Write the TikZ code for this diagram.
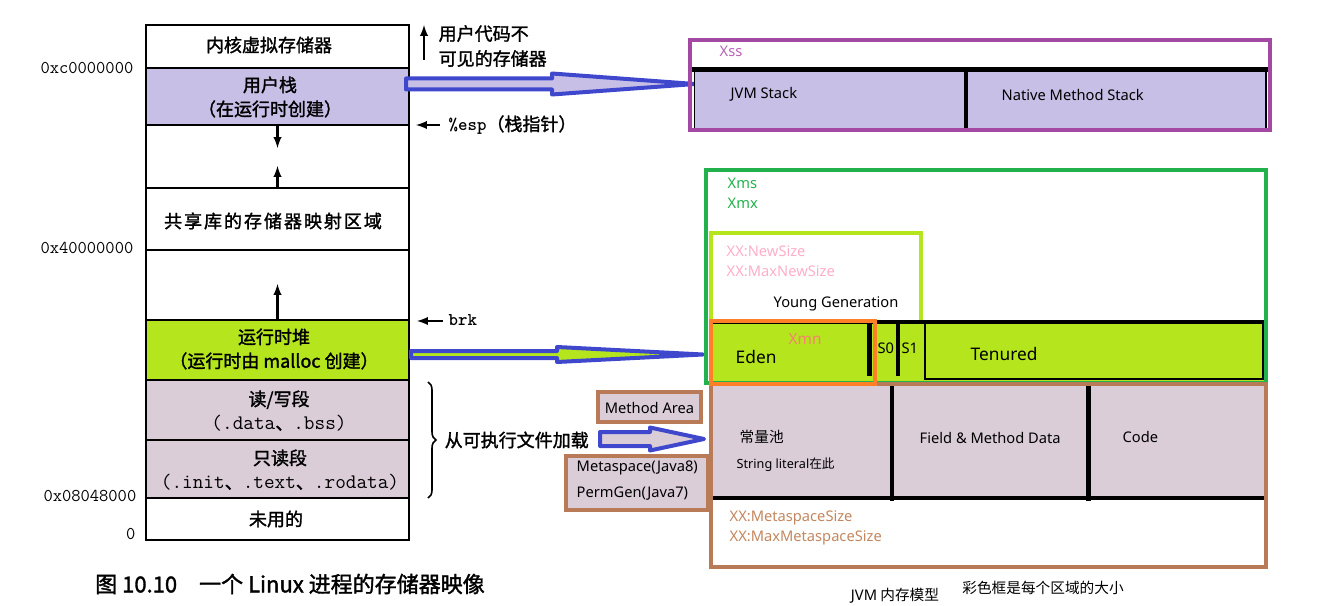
\documentclass[tikz,border=0pt]{standalone}
\usepackage{fontspec}
\setmainfont{Noto Sans CJK SC}
\newfontfamily\cjk{Noto Sans CJK SC}
\newfontfamily\buch[FakeBold=1.6]{Noto Sans CJK SC}
\newfontfamily\lat{Noto Sans}
\usepackage{tikz}
\usetikzlibrary{arrows,calc,positioning,decorations.pathreplacing}
\definecolor{stackviolet}{HTML}{C8BFE7}
\definecolor{heapgreen}{HTML}{B5E61D}
\definecolor{segmauve}{HTML}{DACDD8}
\definecolor{pfeilblau}{HTML}{3F48CC}
\definecolor{rahmenlila}{HTML}{A349A4}
\definecolor{xsslila}{HTML}{B764B7}
\definecolor{rahmengruen}{HTML}{22B14C}
\definecolor{rahmenorange}{HTML}{FF7F27}
\definecolor{xmnrot}{HTML}{F98072}
\definecolor{rahmenbraun}{HTML}{B97A57}
\definecolor{metabraun}{HTML}{C3875F}
\definecolor{rosa}{HTML}{FFAEC9}
\newcommand{\mono}[1]{{\ttfamily\fontsize{15.5}{18}\selectfont #1}}

\begin{document}
\begin{tikzpicture}[x=0.75pt,y=-0.75pt,
  zeile/.style={draw=black,line width=1.6pt},
  buchtext/.style={font=\buch\fontsize{13.5}{18}\selectfont,align=center},
  adresse/.style={font=\ttfamily\fontsize{13.5}{15}\selectfont,anchor=east},
  jvmtext/.style={font=\lat\fontsize{11}{13}\selectfont,anchor=west},
  rahmen/.style={line width=3pt},
  trenner/.style={line width=3.5pt,black},
  zeiger/.style={-latex,line width=1.8pt},
  blockpfeil/.style={draw=pfeilblau,line width=3pt,line join=round}]
\useasboundingbox (0,0) rectangle (1318,606);
%Spalte links: Zeilen mit oben/unten/Farbe
  \pgfmathsetmacro{\links}{146}
  \pgfmathsetmacro{\rechts}{409}
  \pgfmathsetmacro{\mitte}{(\links+\rechts)/2}
\foreach \oben/\unten/\farbe in {25/68/white,68/125/stackviolet,125/188/white,188/250/white,250/320/white,320/380/heapgreen,380/440/segmauve,440/498/segmauve,498/540/white}{
\draw[zeile,fill=\farbe] (\links,\oben) rectangle (\rechts,\unten);
}
\node[buchtext] (kern) at (269,45) {内核虚拟存储器};
\node[buchtext] (ustack) at (270,97) {用户栈\\（在运行时创建）};
\node[buchtext,font=\buch\fontsize{13.5}{18}\addfontfeature{LetterSpace=11}\selectfont] (shlib) at (273,221) {共享库的存储器映射区域};
\node[buchtext] (heap) at (274,349) {运行时堆\\（运行时由 malloc 创建）};
\node[buchtext] (rwseg) at (279,411) {读/写段\\\mono{(.data}、\mono{.bss)}};
\node[buchtext] (roseg) at (280,470) {只读段\\\mono{(.init}、\mono{.text}、\mono{.rodata)}};
\node[buchtext] (unused) at (276,519) {未用的};
\draw[zeiger] (\mitte,124) -- (\mitte,148);
\draw[zeiger] (\mitte,189) -- (\mitte,166);
\draw[zeiger] (\mitte,321) -- (\mitte,284);
%Adressen
\node[adresse] (adrc) at (138,68) {0xc0000000};
\node[adresse] (adrvier) at (138,248) {0x40000000};
\node[adresse] (adrnull) at (141,496) {0x08048000};
\node[adresse] (null) at (140,534) {0};
%Beschriftung rechts der Spalte
\draw[zeiger] (424,60) -- (424,25);
\node[buchtext,align=left,anchor=west,font=\buch\fontsize{13.5}{18.75}\selectfont] (unsichtbar) at (434,46) {用户代码不\\可见的存储器};
\draw[zeiger] (440,125) -- (416,125);
\node[buchtext,anchor=west] (esp) at (444,125) {{\ttfamily\bfseries\%esp}（栈指针）};
\draw[zeiger] (443,321) -- (417,321);
\node[buchtext,anchor=west] (brk) at (444,320) {\ttfamily\bfseries brk};
\draw[line width=1.2pt,decorate,decoration={brace,amplitude=6pt}] (428,382) -- (428,498);
\node[buchtext,anchor=west] (laden) at (440,440) {从可执行文件加载};
\node[buchtext,font=\buch\fontsize{16.5}{18}\selectfont] (titel) at (290,584) {图 10.10\quad 一个 Linux 进程的存储器映像};
%Pfeile
\coordinate (pfA0) at (406,84);
\coordinate (pfA1) at (695,84);
\coordinate (pfB0) at (411,354.5);
\coordinate (pfB1) at (703,354.5);
\coordinate (pfC0) at (600,439);
\coordinate (pfC1) at (704,439);
\draw[blockpfeil,fill=stackviolet] ($(pfA0)+(0,-5.5)$) -- ++(146,0) -- ++(0,-5) -- (pfA1) -- ++(-143,10.5) -- ++(0,-5) -- ++(-146,0) -- cycle;
\draw[blockpfeil,fill=heapgreen] ($(pfB0)+(0,-3.5)$) -- ++(146,0) -- ++(0,-4) -- (pfB1) -- ++(-146,7.5) -- ++(0,-4) -- ++(-146,0) -- cycle;
\draw[blockpfeil,fill=segmauve] ($(pfC0)+(0,-7)$) -- ++(50,0) -- ++(0,-4.5) -- (pfC1) -- ++(-54,11.5) -- ++(0,-4.5) -- ++(-50,0) -- cycle;
%JVM Stack
\fill[stackviolet] (694,70) rectangle (1267,130);
\draw[line width=1.2pt] (694.5,70) -- (694.5,130) (1266,70) -- (1266,130);
\draw[trenner] (692,69.5) -- (1268,69.5);
\draw[trenner,line width=3pt] (966,70) -- (966,130);
\draw[rahmen,rahmenlila] (690,40) rectangle (1270,130.5);
\node[jvmtext,text=xsslila] (xss) at (715,51) {Xss};
\node[jvmtext] (jvmstack) at (726,94) {JVM Stack};
\node[jvmtext] (nativestack) at (997,95) {Native Method Stack};
%Heap
\fill[heapgreen] (711,322) rectangle (1264,381);
\draw[rahmen,heapgreen] (711,233) rectangle (921,322);
\draw[trenner] (713,322) -- (1264,322);
\draw[line width=1.2pt] (925,323) rectangle (1263,379);
\draw[trenner] (869.5,322) -- (869.5,376);
\draw[trenner] (898,322) -- (898,376);
\node[jvmtext,text=rahmengruen] (xms) at (723,183) {Xms};
\node[jvmtext,text=rahmengruen] (xmx) at (723,203) {Xmx};
\node[jvmtext,text=rosa] (newsize) at (722,251) {XX:NewSize};
\node[jvmtext,text=rosa] (maxnewsize) at (722,271) {XX:MaxNewSize};
\node[jvmtext] (young) at (769,304) {Young Generation};
\node[jvmtext,text=xmnrot,font=\lat\fontsize{11.5}{13}\selectfont] (xmn) at (784,339) {Xmn};
\node[jvmtext,font=\lat\fontsize{13}{15}\selectfont] (eden) at (731,357) {Eden};
\node[jvmtext,inner sep=1pt] (snull) at (876,348) {S0};
\node[jvmtext,inner sep=1pt] (seins) at (900,348) {S1};
\node[jvmtext,font=\lat\fontsize{13}{15}\selectfont] (tenured) at (966,354) {Tenured};
%Method Area
\fill[segmauve] (711,386) rectangle (1264,498);
\draw[trenner] (711,498) -- (1264,498);
\draw[trenner] (892,386) -- (892,501) (1088.5,386) -- (1088.5,501);
\draw[rahmen,rahmengruen] (706,170) rectangle (1266,383);
\draw[rahmen,rahmenbraun] (711,384) rectangle (1266,567);
\draw[rahmen,rahmenorange] (711,321) rectangle (875,384);
\node[jvmtext,font=\cjk\fontsize{11}{13}\selectfont] (konstpool) at (735,437) {常量池};
\node[jvmtext,font=\cjk\fontsize{9.5}{11}\selectfont] (strlit) at (732,465) {{\lat String literal}在此};
\node[jvmtext] (fieldmethod) at (915,438) {Field \& Method Data};
\node[jvmtext] (code) at (1118,437) {Code};
\node[jvmtext,text=metabraun] (metasize) at (725,518) {XX:MetaspaceSize};
\node[jvmtext,text=metabraun] (maxmetasize) at (725,538) {XX:MaxMetaspaceSize};
\draw[rahmen,rahmenbraun,fill=segmauve] (598,392) rectangle (701,422);
\node[jvmtext,anchor=center] (methodarea) at (649.5,408) {Method Area};
\draw[rahmen,rahmenbraun,fill=segmauve] (566,456) rectangle (708,510);
\node[jvmtext,align=left,font=\lat\fontsize{11}{19.5}\selectfont] (metaspace) at (572,481) {Metaspace(Java8)\\PermGen(Java7)};
%Unterschriften
\node[font=\cjk\fontsize{11}{13}\selectfont] (jvmmodell) at (895,596) {{\lat JVM} 内存模型};
\node[font=\cjk\fontsize{11}{13}\selectfont] (hinweis) at (1043,588) {彩色框是每个区域的大小};
\end{tikzpicture}
\end{document}
